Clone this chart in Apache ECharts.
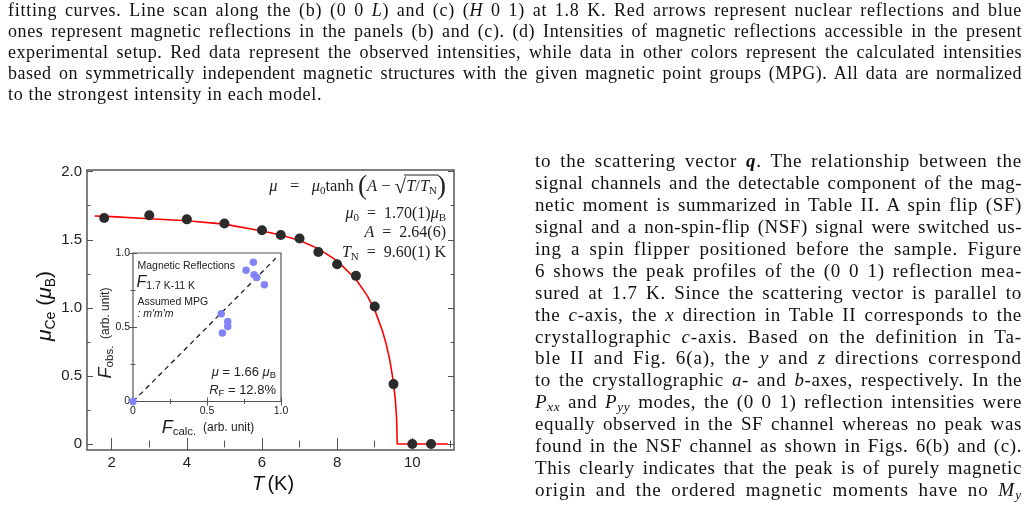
<!DOCTYPE html>
<html>
<head>
<meta charset="utf-8">
<script src="https://cdn.jsdelivr.net/npm/echarts@6/dist/echarts.min.js"></script>
<style>
html, body { margin: 0; padding: 0; background: #fff; }
#page { position: relative; width: 1030px; height: 522px; overflow: hidden; }
#chart { position: absolute; left: 0; top: 0; width: 1030px; height: 522px; }
.ln { position: absolute; white-space: nowrap; font-family: "Liberation Serif", serif; color: #111; }
.cap { font-size: 18px; line-height: 21px; left: 8px; }
.txt { font-size: 19px; line-height: 22px; left: 535px; }
.ln sub { font-size: 70%; line-height: 0; vertical-align: -0.25em; }
</style>
</head>
<body>
<div id="page">
  <div id="chart"></div>
  <div class="ln cap j" data-w="1014" style="top:0px">fitting curves. Line scan along the (b) (0 0 <i>L</i>) and (c) (<i>H</i> 0 1) at 1.8 K. Red arrows represent nuclear reflections and blue</div>
  <div class="ln cap j" data-w="1014" style="top:21px">ones represent magnetic reflections in the panels (b) and (c). (d) Intensities of magnetic reflections accessible in the present</div>
  <div class="ln cap j" data-w="1014" style="top:42px">experimental setup. Red data represent the observed intensities, while data in other colors represent the calculated intensities</div>
  <div class="ln cap j" data-w="1014" style="top:63px">based on symmetrically independent magnetic structures with the given magnetic point groups (MPG). All data are normalized</div>
  <div class="ln cap last" style="top:84px">to the strongest intensity in each model.</div>

  <div class="ln txt j" data-w="487" style="top:150px">to the scattering vector <b><i>q</i></b>. The relationship between the</div>
  <div class="ln txt j" data-w="487" style="top:172px">signal channels and the detectable component of the mag-</div>
  <div class="ln txt j" data-w="487" style="top:194px">netic moment is summarized in Table II. A spin flip (SF)</div>
  <div class="ln txt j" data-w="487" style="top:216px">signal and a non-spin-flip (NSF) signal were switched us-</div>
  <div class="ln txt j" data-w="487" style="top:238px">ing a spin flipper positioned before the sample. Figure</div>
  <div class="ln txt j" data-w="487" style="top:260px">6 shows the peak profiles of the (0 0 1) reflection mea-</div>
  <div class="ln txt j" data-w="487" style="top:282px">sured at 1.7 K. Since the scattering vector is parallel to</div>
  <div class="ln txt j" data-w="487" style="top:304px">the <i>c</i>-axis, the <i>x</i> direction in Table II corresponds to the</div>
  <div class="ln txt j" data-w="487" style="top:326px">crystallographic <i>c</i>-axis. Based on the definition in Ta-</div>
  <div class="ln txt j" data-w="487" style="top:347px">ble II and Fig. 6(a), the <i>y</i> and <i>z</i> directions correspond</div>
  <div class="ln txt j" data-w="487" style="top:369px">to the crystallographic <i>a</i>- and <i>b</i>-axes, respectively. In the</div>
  <div class="ln txt j" data-w="487" style="top:391px"><i>P<sub>xx</sub></i> and <i>P<sub>yy</sub></i> modes, the (0 0 1) reflection intensities were</div>
  <div class="ln txt j" data-w="487" style="top:413px">equally observed in the SF channel whereas no peak was</div>
  <div class="ln txt j" data-w="487" style="top:435px">found in the NSF channel as shown in Figs. 6(b) and (c).</div>
  <div class="ln txt j" data-w="487" style="top:457px">This clearly indicates that the peak is of purely magnetic</div>
  <div class="ln txt j" data-w="487" style="top:479px">origin and the ordered magnetic moments have no <i>M<sub>y</sub></i></div>
</div>
<script>
// ordered moment vs temperature
var tempK = [1.8, 3, 4, 5, 6, 6.5, 7, 7.5, 8, 8.5, 9, 9.5, 10, 10.5];
var momentCe = [1.66, 1.68, 1.65, 1.62, 1.57, 1.535, 1.51, 1.41, 1.32, 1.235, 1.01, 0.44, 0, 0];
// red fitting curve
var fitT = [1.55, 2, 3, 4, 5, 6, 6.5, 7, 7.5, 8, 8.5, 8.8, 9, 9.2, 9.3, 9.4, 9.5, 9.55, 9.58, 9.6, 10.95];
var fitMu = [1.675, 1.67, 1.655, 1.64, 1.615, 1.565, 1.535, 1.495, 1.435, 1.345, 1.21, 1.09, 0.985, 0.835, 0.74, 0.62, 0.45, 0.32, 0.2, 0, 0];
// inset: F obs vs F calc
var fCalc = [0, 0.813, 0.764, 0.818, 0.836, 0.888, 0.596, 0.64, 0.64, 0.604];
var fObs = [0, 0.937, 0.883, 0.854, 0.835, 0.786, 0.591, 0.539, 0.505, 0.461];
var guideLine = [0, 0.965];
// ticks
var mainXMajor = [2, 4, 6, 8, 10];
var mainXMinor = [3, 5, 7, 9, 11];
var mainYMajor = [0, 0.5, 1, 1.5, 2];
var mainYMinor = [0.25, 0.75, 1.25, 1.75];
var insetMajor = [0, 0.5, 1];
var insetMinor = [0.25, 0.75];

// justify the page text lines
var lsSum = 0, lsN = 0;
document.querySelectorAll('.j').forEach(function (el) {
    var target = parseFloat(el.getAttribute('data-w'));
    var txt = el.textContent;
    var nat = el.getBoundingClientRect().width;
    var ls = 0.6 * (target - nat) / txt.length;
    el.style.letterSpacing = ls + 'px';
    lsSum += ls; lsN++;
    var nat2 = el.getBoundingClientRect().width;
    var spaces = (txt.match(/ /g) || []).length;
    el.style.wordSpacing = ((target - nat2) / spaces) + 'px';
});
document.querySelectorAll('.last').forEach(function (el) {
    el.style.letterSpacing = (lsSum / lsN) + 'px';
});

var sans = '"Liberation Sans", Arial, sans-serif';
var serif = '"Liberation Serif", serif';
var axisCol = '#555';

function zip(a, b) {
    var out = [];
    for (var i = 0; i < a.length; i++) out.push([a[i], b[i]]);
    return out;
}
function fmtY(v) { return v === 0 ? '0' : v.toFixed(1); }
function fmtX(v) { return String(v); }

function axis(grid, pos, min, max, ticks, len, labels, labelOpt) {
    var a = {
        type: 'value', gridIndex: grid, position: pos, min: min, max: max,
        axisLine: {show: false}, splitLine: {show: false},
        axisTick: {show: true, inside: true, length: len, customValues: ticks,
            lineStyle: {color: axisCol, width: 1}},
        axisLabel: {show: false}
    };
    if (labels) {
        a.axisLabel = Object.assign({show: true, customValues: labels}, labelOpt);
    }
    return a;
}

var mainLbl = {color: '#222', fontFamily: sans, fontSize: 15};
var insetLbl = {color: '#222', fontFamily: sans, fontSize: 10.5};

var xAxes = [
    axis(0, 'bottom', 1.343, 11.11, mainXMajor, 6, mainXMajor, Object.assign({margin: 5, formatter: fmtX}, mainLbl)),
    axis(0, 'bottom', 1.343, 11.11, mainXMinor, 3.5),
    axis(0, 'top', 1.343, 11.11, mainXMajor, 6),
    axis(0, 'top', 1.343, 11.11, mainXMinor, 3.5),
    axis(1, 'bottom', 0, 1, insetMajor, 4, insetMajor, Object.assign({margin: 4, formatter: fmtY}, insetLbl)),
    axis(1, 'bottom', 0, 1, insetMinor, 2.5),
    axis(1, 'top', 0, 1, insetMajor, 4),
    axis(1, 'top', 0, 1, insetMinor, 2.5)
];
var yAxes = [
    axis(0, 'left', -0.044, 2.0125, mainYMajor, 6, mainYMajor, Object.assign({margin: 5, formatter: fmtY}, mainLbl)),
    axis(0, 'left', -0.044, 2.0125, mainYMinor, 3.5),
    axis(0, 'right', -0.044, 2.0125, mainYMajor, 6),
    axis(0, 'right', -0.044, 2.0125, mainYMinor, 3.5),
    axis(1, 'left', 0, 1, insetMajor, 4, insetMajor, Object.assign({margin: 3, formatter: fmtY}, insetLbl)),
    axis(1, 'left', 0, 1, insetMinor, 2.5),
    axis(1, 'right', 0, 1, insetMajor, 4),
    axis(1, 'right', 0, 1, insetMinor, 2.5)
];

var sub = function (size, font, lift) {
    return {fontFamily: font, fontSize: size, lineHeight: size, verticalAlign: 'bottom',
            padding: [0, 0, lift || 0, 0]};
};

var graphics = [
    // main axis names
    {type: 'text', x: 273, y: 484, style: {
        text: '{i|T} {r|(K)}', fill: '#111', align: 'center', verticalAlign: 'middle',
        textAlign: 'center', textVerticalAlign: 'middle',
        rich: {i: {fontFamily: sans, fontSize: 20, fontStyle: 'italic'}, r: {fontFamily: sans, fontSize: 20}}
    }},
    {type: 'text', x: 45, y: 306, rotation: Math.PI / 2, style: {
        text: '{i|μ}{s|Ce}{r| (}{i|μ}{s|B}{r|)}', fill: '#111', align: 'center', verticalAlign: 'middle',
        textAlign: 'center', textVerticalAlign: 'middle',
        rich: {i: {fontFamily: sans, fontSize: 21, fontStyle: 'italic', lineHeight: 26},
               r: {fontFamily: sans, fontSize: 21, lineHeight: 26},
               s: sub(14, sans)}
    }},
    // fit formula
    {type: 'text', x: 446, y: 187, style: {
        text: '{i|μ}{r|   =   }{i|μ}{s|0}{r|tanh }{p|(}{i|A}{r| − }{q|√}{i|T}{r|/}{i|T}{s|N}{p|)}',
        fill: '#222', align: 'right', verticalAlign: 'middle', textAlign: 'right', textVerticalAlign: 'middle',
        rich: {i: {fontFamily: serif, fontSize: 16.5, fontStyle: 'italic', lineHeight: 22},
               r: {fontFamily: serif, fontSize: 16.5, lineHeight: 22},
               p: {fontFamily: serif, fontSize: 27, lineHeight: 30},
               q: {fontFamily: serif, fontSize: 21, lineHeight: 26},
               s: sub(11, serif, 5)}
    }},
    {type: 'line', shape: {x1: 404, y1: 175, x2: 438, y2: 175}, style: {stroke: '#222', lineWidth: 1}},
    {type: 'text', x: 446, y: 214, style: {
        text: '{i|μ}{s|0}{r|  =  1.70(1)}{i|μ}{s|B}', fill: '#222', align: 'right', verticalAlign: 'middle',
        textAlign: 'right', textVerticalAlign: 'middle',
        rich: {i: {fontFamily: serif, fontSize: 16, fontStyle: 'italic', lineHeight: 20},
               r: {fontFamily: serif, fontSize: 16, lineHeight: 20}, s: sub(11, serif)}
    }},
    {type: 'text', x: 446, y: 233, style: {
        text: '{i|A}{r|  =  2.64(6)}', fill: '#222', align: 'right', verticalAlign: 'middle',
        textAlign: 'right', textVerticalAlign: 'middle',
        rich: {i: {fontFamily: serif, fontSize: 16, fontStyle: 'italic', lineHeight: 20},
               r: {fontFamily: serif, fontSize: 16, lineHeight: 20}}
    }},
    {type: 'text', x: 446, y: 253, style: {
        text: '{i|T}{s|N}{r|  =  9.60(1) K}', fill: '#222', align: 'right', verticalAlign: 'middle',
        textAlign: 'right', textVerticalAlign: 'middle',
        rich: {i: {fontFamily: serif, fontSize: 16, fontStyle: 'italic', lineHeight: 20},
               r: {fontFamily: serif, fontSize: 16, lineHeight: 20}, s: sub(11, serif)}
    }},
    // inset texts
    {type: 'text', x: 137.5, y: 266, style: {
        text: 'Magnetic Reflections', fill: '#222', font: '10.5px ' + sans, align: 'left', verticalAlign: 'middle',
        textAlign: 'left', textVerticalAlign: 'middle'
    }},
    {type: 'text', x: 136.5, y: 283, style: {
        text: '{i|F}{s|1.7 K-11 K}', fill: '#222', align: 'left', verticalAlign: 'middle',
        textAlign: 'left', textVerticalAlign: 'middle',
        rich: {i: {fontFamily: sans, fontSize: 16, fontStyle: 'italic', lineHeight: 18}, s: sub(10.5, sans)}
    }},
    {type: 'text', x: 137.5, y: 302, style: {
        text: 'Assumed MPG', fill: '#222', font: '10.5px ' + sans, align: 'left', verticalAlign: 'middle',
        textAlign: 'left', textVerticalAlign: 'middle'
    }},
    {type: 'text', x: 137.5, y: 314, style: {
        text: ": m'm'm", fill: '#222', font: 'italic 10.5px ' + sans, align: 'left', verticalAlign: 'middle',
        textAlign: 'left', textVerticalAlign: 'middle'
    }},
    {type: 'text', x: 276, y: 372, style: {
        text: '{i|μ}{r| = 1.66 }{i|μ}{s|B}', fill: '#222', align: 'right', verticalAlign: 'middle',
        textAlign: 'right', textVerticalAlign: 'middle',
        rich: {i: {fontFamily: sans, fontSize: 13, fontStyle: 'italic', lineHeight: 17},
               r: {fontFamily: sans, fontSize: 13, lineHeight: 17}, s: sub(9.5, sans)}
    }},
    {type: 'text', x: 276, y: 390, style: {
        text: '{i|R}{s|F}{r| = 12.8%}', fill: '#222', align: 'right', verticalAlign: 'middle',
        textAlign: 'right', textVerticalAlign: 'middle',
        rich: {i: {fontFamily: sans, fontSize: 13, fontStyle: 'italic', lineHeight: 17},
               r: {fontFamily: sans, fontSize: 13, lineHeight: 17}, s: sub(9.5, sans)}
    }},
    {type: 'text', x: 208, y: 428, style: {
        text: '{i|F}{s|calc.}{r|  (arb. unit)}', fill: '#222', align: 'center', verticalAlign: 'middle',
        textAlign: 'center', textVerticalAlign: 'middle',
        rich: {i: {fontFamily: sans, fontSize: 18, fontStyle: 'italic', lineHeight: 20},
               r: {fontFamily: sans, fontSize: 12, lineHeight: 20}, s: sub(11.5, sans)}
    }},
    {type: 'text', x: 106, y: 333, rotation: Math.PI / 2, style: {
        text: '{i|F}{s|obs.}{r|  (arb. unit)}', fill: '#222', align: 'center', verticalAlign: 'middle',
        textAlign: 'center', textVerticalAlign: 'middle',
        rich: {i: {fontFamily: sans, fontSize: 18, fontStyle: 'italic', lineHeight: 20},
               r: {fontFamily: sans, fontSize: 12, lineHeight: 20}, s: sub(11.5, sans)}
    }}
];

var chart = echarts.init(document.getElementById('chart'));
var option = {
    animation: false,
    grid: [
        {left: 87, top: 170, width: 367, height: 280, show: true, borderColor: axisCol, borderWidth: 1.5,
         backgroundColor: 'transparent', containLabel: false},
        {left: 133, top: 253, width: 148, height: 148.5, show: true, borderColor: axisCol, borderWidth: 1.2,
         backgroundColor: '#fff', containLabel: false}
    ],
    xAxis: xAxes,
    yAxis: yAxes,
    graphic: graphics,
    series: [
        {
            type: 'line', xAxisIndex: 0, yAxisIndex: 0, data: zip(fitT, fitMu),
            symbol: 'none', lineStyle: {color: '#ff0000', width: 1.6}, z: 2, silent: true
        },
        {
            type: 'scatter', xAxisIndex: 0, yAxisIndex: 0, data: zip(tempK, momentCe),
            symbolSize: 10, itemStyle: {color: '#2b2b2b', opacity: 1}, z: 3
        },
        {
            type: 'line', xAxisIndex: 4, yAxisIndex: 4, data: zip(guideLine, guideLine),
            symbol: 'none', lineStyle: {color: '#111', width: 1.2, type: [5, 4]}, z: 2, silent: true
        },
        {
            type: 'scatter', xAxisIndex: 4, yAxisIndex: 4, data: zip(fCalc, fObs),
            symbolSize: 7.5, itemStyle: {color: '#8484f6', opacity: 1}, z: 3
        }
    ]
};
chart.setOption(option);
</script>
</body>
</html>
